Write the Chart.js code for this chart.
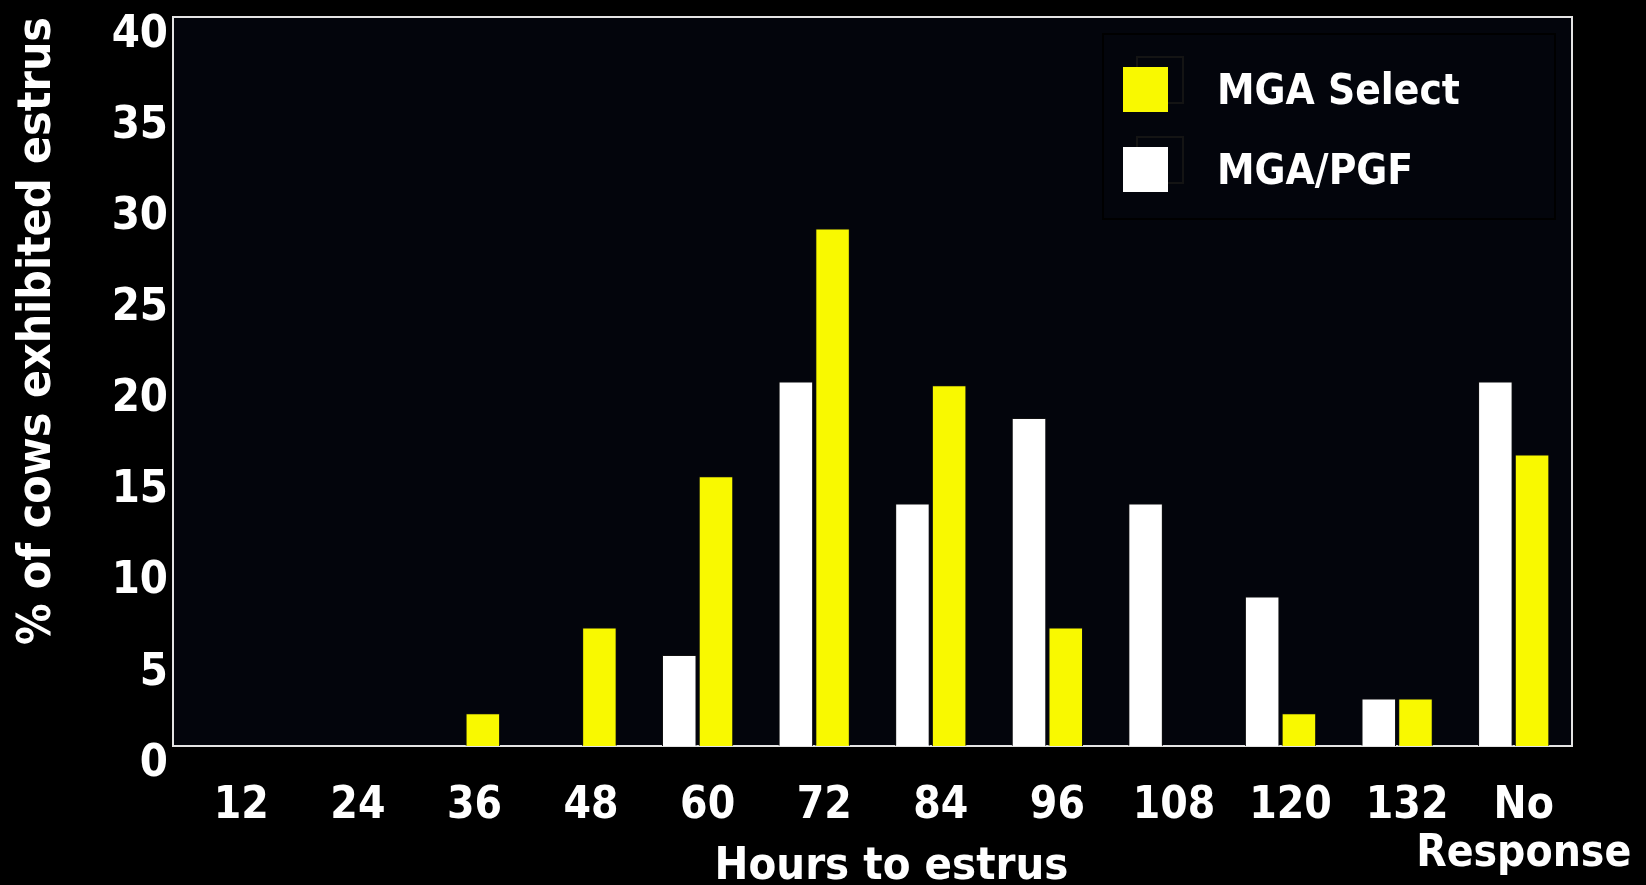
<!DOCTYPE html>
<html>
<head>
<meta charset="utf-8">
<title>Hours to estrus</title>
<script src="https://cdn.jsdelivr.net/npm/chart.js@4.4.1/dist/chart.umd.min.js"></script>
<style>
  html, body { margin: 0; padding: 0; background: #000; }
  #wrap { width: 1646px; height: 885px; }
</style>
</head>
<body>
<div id="wrap"><canvas id="estrusChart" width="1646" height="885"></canvas></div>
<script>
const FONT = "'DejaVu Sans Condensed', 'DejaVu Sans', sans-serif"

// Data
const hours = ['12', '24', '36', '48', '60', '72', '84', '96', '108', '120', '132', ['No', 'Response']]
const mgaPgf = [0, 0, 0, 0, 5.0, 20.0, 13.3, 18.0, 13.3, 8.2, 2.6, 20.0]
const mgaSelect = [0, 0, 1.8, 6.5, 14.8, 28.4, 19.8, 6.5, 0, 1.8, 2.6, 16.0]
const yTitle = '% of cows exhibited estrus'
const xTitle = 'Hours to estrus'

// black page, dark plot area and its frame
const plotFrame = {
  id: 'plotFrame',
  beforeDraw(chart) {
    const { ctx, chartArea: a } = chart
    ctx.save()
    ctx.fillStyle = '#000'
    ctx.fillRect(0, 0, chart.width, chart.height)
    ctx.fillStyle = '#03050c'
    ctx.fillRect(a.left, a.top, a.right - a.left, a.bottom - a.top)
    ctx.strokeStyle = '#e4e4e4'
    ctx.lineWidth = 2
    ctx.strokeRect(a.left, a.top, a.right - a.left, a.bottom - a.top)
    ctx.restore()
  },
}

// x title sits a bit right of centre on the slide, and overlaps the
// second line of "No Response", so it is drawn here
const xAxisTitle = {
  id: 'xAxisTitle',
  afterDraw(chart) {
    const { ctx, chartArea: a } = chart
    ctx.save()
    ctx.fillStyle = '#fff'
    ctx.font = 'bold 45px ' + FONT
    ctx.textAlign = 'center'
    ctx.textBaseline = 'middle'
    ctx.fillText(xTitle, (a.left + a.right) / 2 + 19, a.bottom + 121)
    ctx.restore()
  },
}

// boxed legend in the top right corner (yellow first, like the slide)
const boxLegend = {
  id: 'boxLegend',
  afterDatasetsDraw(chart) {
    const { ctx, chartArea: a } = chart
    const x = a.right - 469
    const y = a.top + 17
    ctx.save()
    ctx.fillStyle = '#03050c'
    ctx.fillRect(x, y, 452, 185)
    ctx.strokeStyle = '#000'
    ctx.lineWidth = 2
    ctx.strokeRect(x, y, 452, 185)
    const items = chart.data.datasets.slice().reverse()
    items.forEach((ds, i) => {
      const sy = y + 33 + i * 80
      ctx.strokeStyle = '#141414'
      ctx.strokeRect(x + 34, sy - 10, 46, 46)
      ctx.fillStyle = ds.backgroundColor
      ctx.fillRect(x + 20, sy, 45, 45)
      ctx.fillStyle = '#fff'
      ctx.font = 'bold 42px ' + FONT
      ctx.textBaseline = 'middle'
      ctx.textAlign = 'left'
      ctx.fillText(ds.label, x + 114, sy + 26)
    })
    ctx.restore()
  },
}

const ctx = document.getElementById('estrusChart').getContext('2d')

new Chart(ctx, {
  type: 'bar',
  data: {
    labels: hours,
    datasets: [
      {
        label: 'MGA/PGF',
        data: mgaPgf,
        backgroundColor: '#ffffff',
        borderColor: '#111111',
        borderWidth: 1,
      },
      {
        label: 'MGA Select',
        data: mgaSelect,
        backgroundColor: '#f9f900',
        borderColor: '#111111',
        borderWidth: 1,
      },
    ],
  },
  options: {
    responsive: false,
    animation: false,
    devicePixelRatio: 1,
    categoryPercentage: 0.63,
    barPercentage: 0.94,
    layout: { padding: { left: 10, top: 17, right: 74, bottom: 0 } },
    plugins: {
      legend: { display: false },
      tooltip: { enabled: false },
    },
    scales: {
      x: {
        grid: { display: false, drawTicks: false },
        border: { display: false },
        ticks: {
          color: '#fff',
          font: { family: FONT, size: 44, weight: 'bold', lineHeight: 1.1 },
          padding: 36,
          labelOffset: 10,
          maxRotation: 0,
          autoSkip: false,
        },
        afterFit(scale) {
          scale.height = 139
          // let "Response" run into the right margin like on the slide
          scale.paddingRight = 0
        },
      },
      y: {
        min: 0,
        max: 40,
        grid: { display: false, drawTicks: false },
        border: { display: false },
        ticks: {
          stepSize: 5,
          color: '#fff',
          font: { family: FONT, size: 45, weight: 'bold', lineHeight: 0.2 },
          padding: 5,
          labelOffset: 18,
        },
        title: {
          display: true,
          text: yTitle,
          align: 'end',
          color: '#fff',
          font: { family: FONT, size: 46, weight: 'bold', lineHeight: 1.2 },
          padding: { top: 0, bottom: 0 },
        },
        afterFit(scale) {
          scale.width = 163
          scale.paddingTop = 0
        },
      },
    },
  },
  plugins: [plotFrame, boxLegend, xAxisTitle],
})
</script>
</body>
</html>
